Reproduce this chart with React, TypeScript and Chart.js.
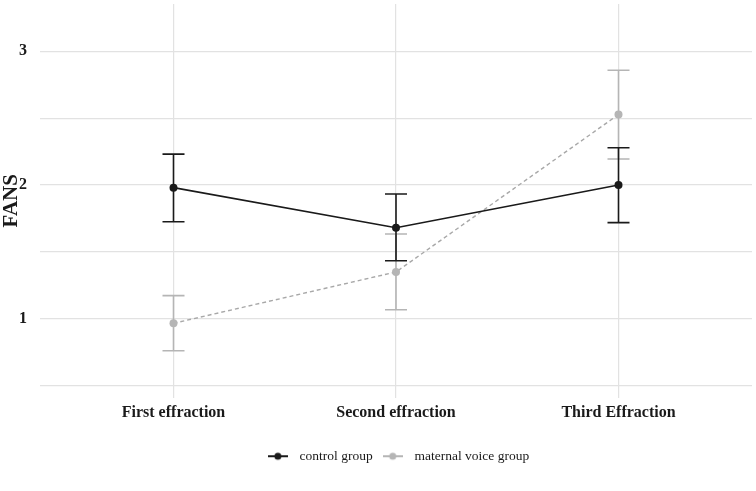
import { useEffect, useRef } from 'react'
import { Chart, registerables } from 'chart.js'

Chart.register(...registerables)

const timepoints = ['First effraction', 'Second effraction', 'Third Effraction']
const groups = ['control group', 'maternal voice group']

const controlMean = [1.98, 1.68, 2.0]
const controlLow = [1.725, 1.433, 1.718]
const controlHigh = [2.231, 1.933, 2.278]

const voiceMean = [0.965, 1.349, 2.527]
const voiceLow = [0.76, 1.066, 2.194]
const voiceHigh = [1.172, 1.633, 2.858]

const yTicks = [0.5, 1, 1.5, 2, 2.5, 3]
const xTicks = [0, 1, 2]

const serif = "'Liberation Serif', 'Times New Roman', serif"
const black = '#1a1a1a'
const grey = '#b5b5b5'
const greyLine = '#a8a8a8'

function makeKey(color: string) {
  const c = document.createElement('canvas')
  c.width = 20
  c.height = 10
  const g = c.getContext('2d')!
  g.strokeStyle = color
  g.lineWidth = 2
  g.beginPath()
  g.moveTo(0, 5)
  g.lineTo(20, 5)
  g.stroke()
  g.fillStyle = color
  g.beginPath()
  g.arc(10, 5, 3.5, 0, Math.PI * 2)
  g.fill()
  return c
}

const errorBars = {
  id: 'errorBars',
  beforeDatasetsDraw(chart: any) {
    const { ctx, scales } = chart
    const x = scales.x
    const y = scales.y
    const bars = [
      { low: voiceLow, high: voiceHigh, color: grey },
      { low: controlLow, high: controlHigh, color: black },
    ]
    ctx.save()
    ctx.lineWidth = 1.6
    bars.forEach((b) => {
      ctx.strokeStyle = b.color
      b.low.forEach((lo, i) => {
        const px = x.getPixelForValue(i)
        const top = y.getPixelForValue(b.high[i])
        const bot = y.getPixelForValue(lo)
        ctx.beginPath()
        ctx.moveTo(px, top)
        ctx.lineTo(px, bot)
        ctx.moveTo(px - 11, top)
        ctx.lineTo(px + 11, top)
        ctx.moveTo(px - 11, bot)
        ctx.lineTo(px + 11, bot)
        ctx.stroke()
      })
    })
    ctx.restore()
  },
}

// centre the legend under the plot panel rather than the whole canvas
const legendUnderPanel = {
  id: 'legendUnderPanel',
  afterLayout(chart: any) {
    const lg = chart.legend
    if (!lg) return
    lg.left = chart.chartArea.left
    lg.right = chart.chartArea.right
    lg.width = lg.right - lg.left
  },
}

export default function App() {
  const ref = useRef<HTMLCanvasElement>(null)

  useEffect(() => {
    document.body.style.margin = '0'
    if (!ref.current) return
    const keys = [makeKey(black), makeKey(grey)]

    const chart = new Chart(ref.current, {
      type: 'line',
      plugins: [errorBars, legendUnderPanel],
      data: {
        datasets: [
          {
            label: groups[0],
            data: controlMean.map((v, i) => ({ x: i, y: v })),
            borderColor: black,
            backgroundColor: black,
            borderWidth: 1.6,
            pointRadius: 4,
            pointBackgroundColor: black,
            pointBorderWidth: 0,
          },
          {
            label: groups[1],
            data: voiceMean.map((v, i) => ({ x: i, y: v })),
            borderColor: greyLine,
            backgroundColor: grey,
            borderWidth: 1.4,
            borderDash: [4, 3],
            pointRadius: 4,
            pointBackgroundColor: grey,
            pointBorderWidth: 0,
          },
        ],
      },
      options: {
        animation: false,
        responsive: true,
        maintainAspectRatio: false,
        events: [],
        layout: { padding: { top: 0, right: 1, bottom: 18, left: 0 } },
        plugins: {
          tooltip: { enabled: false },
          legend: {
            position: 'bottom',
            labels: {
              usePointStyle: true,
              pointStyleWidth: 30,
              padding: 5,
              color: black,
              font: { family: serif, size: 13.5 },
              generateLabels: () =>
                groups.map((text, i) => ({
                  text,
                  datasetIndex: i,
                  pointStyle: keys[i],
                  fillStyle: i ? grey : black,
                  strokeStyle: i ? grey : black,
                  lineWidth: 0,
                  hidden: false,
                  fontColor: black,
                })),
            },
          },
        },
        scales: {
          x: {
            type: 'linear',
            min: -0.6,
            max: 2.6,
            afterBuildTicks: (s: any) => {
              s.ticks = xTicks.map((value) => ({ value }))
            },
            afterFit: (s: any) => {
              s.height = 47
              s.paddingLeft = 0
              s.paddingRight = 0
            },
            grid: { color: '#e2e2e2', lineWidth: 1.2, drawTicks: false },
            border: { display: false },
            ticks: {
              padding: 6,
              color: black,
              font: { family: serif, size: 16, weight: 'bold' },
              callback: (v: any) => timepoints[v] ?? '',
            },
          },
          y: {
            type: 'linear',
            min: 0.41,
            max: 3.354,
            afterBuildTicks: (s: any) => {
              s.ticks = yTicks.map((value) => ({ value }))
            },
            afterFit: (s: any) => {
              s.width = 40
              s.paddingTop = 0
              s.paddingBottom = 0
            },
            grid: { color: '#e2e2e2', lineWidth: 1.2, drawTicks: false },
            border: { display: false },
            title: {
              display: true,
              text: 'FANS',
              color: black,
              padding: { top: 1, bottom: 0 },
              font: { family: serif, size: 21, weight: 'bold', lineHeight: 1 },
            },
            ticks: {
              padding: 13,
              color: black,
              font: { family: serif, size: 16, weight: 'bold' },
              callback: (v: any) => (Number.isInteger(v) ? String(v) : ''),
            },
          },
        },
      },
    } as any)

    return () => chart.destroy()
  }, [])

  return (
    <div style={{ width: 756, height: 491, position: 'relative' }}>
      <canvas ref={ref} />
    </div>
  )
}
